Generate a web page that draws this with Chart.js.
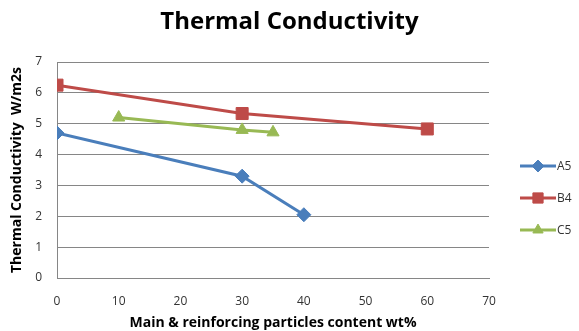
<!DOCTYPE html>
<html>
<head>
<meta charset="utf-8">
<script src="https://cdn.jsdelivr.net/npm/chart.js@4/dist/chart.umd.min.js"></script>
<style>
  html, body { margin: 0; padding: 0; background: #fff; }
  #wrap { width: 579px; height: 331px; }
</style>
</head>
<body>
<div id="wrap"><canvas id="tcChart" width="579" height="331"></canvas></div>
<script>
// data
const seriesNames = ['A5', 'B4', 'C5'];
const a5X = [0, 30, 40];
const a5Y = [4.7, 3.3, 2.05];
const b4X = [0, 30, 60];
const b4Y = [6.25, 5.33, 4.83];
const c5X = [10, 30, 35];
const c5Y = [5.2, 4.8, 4.72];
const xTicks = [0, 10, 20, 30, 40, 50, 60, 70];
const yTicks = [0, 1, 2, 3, 4, 5, 6, 7];
const chartTitle = 'Thermal Conductivity';

const colors = ['#4A7EBB', '#BE4B48', '#98B954'];
const markers = ['rectRot', 'rect', 'triangle'];
const markerSize = [7, 8.5, 7];

function toPoints(xs, ys) {
    return xs.map((x, i) => ({ x: x, y: ys[i] }));
}

const FONT = "'Open Sans', 'Liberation Sans', sans-serif";

// title centred on the whole canvas + Excel-like legend on the right
const extras = {
    id: 'extras',
    afterDraw(chart) {
        const ctx = chart.ctx;
        ctx.save();
        ctx.fillStyle = '#000';
        ctx.font = 'bold 24px ' + FONT;
        ctx.textAlign = 'center';
        ctx.textBaseline = 'middle';
        ctx.fillText(chartTitle, chart.width / 2, 22);
        ctx.restore();

        const rows = [166, 198, 230];
        chart.data.datasets.forEach((ds, i) => {
            const y = rows[i];
            ctx.save();
            ctx.strokeStyle = ds.borderColor;
            ctx.lineWidth = 3;
            ctx.beginPath();
            ctx.moveTo(520, y);
            ctx.lineTo(556, y);
            ctx.stroke();
            ctx.fillStyle = ds.borderColor;
            ctx.lineWidth = 1;
            Chart.helpers.drawPoint(ctx, {
                pointStyle: ds.pointStyle,
                radius: ds.pointRadius * 0.85,
                rotation: 0,
                borderWidth: 1
            }, 538, y);
            ctx.fillStyle = '#333';
            ctx.font = '12px ' + FONT;
            ctx.textBaseline = 'middle';
            ctx.textAlign = 'left';
            ctx.fillText(ds.label, 557, y + 1);
            ctx.restore();
        });
    }
};

const datasets = [toPoints(a5X, a5Y), toPoints(b4X, b4Y), toPoints(c5X, c5Y)].map((pts, i) => ({
    label: seriesNames[i],
    data: pts,
    borderColor: colors[i],
    backgroundColor: colors[i],
    borderWidth: 3,
    pointStyle: markers[i],
    pointRadius: markerSize[i],
    pointBorderWidth: 1,
    tension: 0
}));

new Chart(document.getElementById('tcChart'), {
    type: 'line',
    data: { datasets: datasets },
    options: {
        responsive: false,
        animation: false,
        layout: { padding: { left: 0, right: 90, top: 62, bottom: 0 } },
        plugins: {
            legend: { display: false },
            tooltip: { enabled: false },
            title: { display: false }
        },
        scales: {
            x: {
                type: 'linear',
                min: 0,
                max: 70,
                afterBuildTicks: axis => { axis.ticks = xTicks.map(v => ({ value: v })); },
                afterFit: axis => { axis.height = 53; },
                grid: { display: false, drawTicks: false },
                border: { display: true, color: '#868686', width: 1 },
                ticks: {
                    color: '#333',
                    padding: 16,
                    font: { family: FONT, size: 12 },
                    maxRotation: 0
                },
                title: {
                    display: true,
                    text: 'Main & reinforcing particles content wt%',
                    color: '#000',
                    font: { family: FONT, size: 14, weight: 'bold' },
                    padding: { top: 0, bottom: 0 }
                }
            },
            y: {
                min: 0,
                max: 7,
                afterBuildTicks: axis => { axis.ticks = yTicks.map(v => ({ value: v })); },
                afterFit: axis => { axis.width = 57; },
                grid: { color: '#868686', lineWidth: 1, drawTicks: false },
                border: { display: true, color: '#868686', width: 1 },
                ticks: {
                    color: '#333',
                    padding: 15,
                    font: { family: FONT, size: 12 }
                },
                title: {
                    display: true,
                    text: 'Thermal Conductivity  W/m2s',
                    color: '#000',
                    font: { family: FONT, size: 14, weight: 'bold' },
                    padding: { top: 9, bottom: 0 }
                }
            }
        }
    },
    plugins: [extras]
});
</script>
</body>
</html>
